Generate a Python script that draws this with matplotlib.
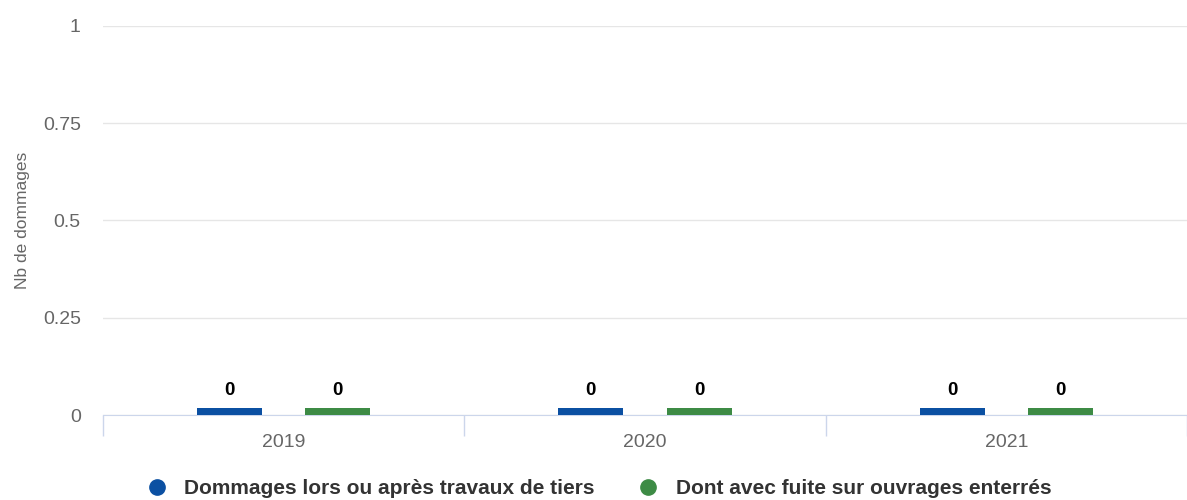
import matplotlib.pyplot as plt
import numpy as np
from matplotlib.lines import Line2D

plt.rcParams['font.family'] = ['Liberation Sans', 'DejaVu Sans']

years = ['2019', '2020', '2021']
dommages = [0, 0, 0]
fuite = [0, 0, 0]
series_names = ['Dommages lors ou après travaux de tiers',
                'Dont avec fuite sur ouvrages enterrés']
colors = ['#0b50a2', '#3d8b45']

fig = plt.figure(figsize=(11.87, 5.0), dpi=100)
ax = fig.add_axes([103/1187, 85/500, 1084/1187, 389/500])

x = np.arange(len(years))
w = 0.18
minh = 0.018  # highcharts-style minimum visible bar height
for vals, off, c in [(dommages, -0.15, colors[0]), (fuite, 0.15, colors[1])]:
    h = [max(v, minh) for v in vals]
    ax.bar(x + off, h, width=w, color=c, zorder=3)
    for xi, v, hi in zip(x, vals, h):
        ax.text(xi + off, hi + 0.045, str(v), ha='center', va='center',
                fontsize=13.5, fontweight='bold', color='black')

ax.set_xlim(-0.5, 2.5)
ax.set_ylim(0, 1)
ax.set_yticks([0, 0.25, 0.5, 0.75, 1])
ax.set_yticklabels(['0', '0.25', '0.5', '0.75', '1'])
ax.grid(axis='y', color='#e6e6e6', linewidth=1, zorder=0)
ax.set_xticks(x)
ax.set_xticklabels(years)
ax.set_xticks([-0.5, 0.5, 1.5, 2.5], minor=True)
ax.tick_params(axis='x', which='major', length=0, pad=14, labelsize=14, labelcolor='#666666')
ax.tick_params(axis='x', which='minor', length=15, color='#ccd6eb', width=1)
ax.tick_params(axis='y', length=0, pad=16, labelsize=14, labelcolor='#666666')
for s in ['top', 'right', 'left']:
    ax.spines[s].set_visible(False)
ax.spines['bottom'].set_color('#ccd6eb')
ax.set_ylabel('Nb de dommages', fontsize=12.5, color='#666666', labelpad=9)

handles = [Line2D([], [], marker='o', linestyle='', markersize=11,
                  markerfacecolor=c, markeredgecolor=c) for c in colors]
leg = fig.legend(handles, series_names, loc='center', bbox_to_anchor=(0.5, 0.022),
                 ncol=2, frameon=False, handletextpad=0.3, columnspacing=1.6,
                 prop={'size': 15, 'weight': 'bold'})
for t in leg.get_texts():
    t.set_color('#333333')

fig.savefig('out.png', dpi=100)
